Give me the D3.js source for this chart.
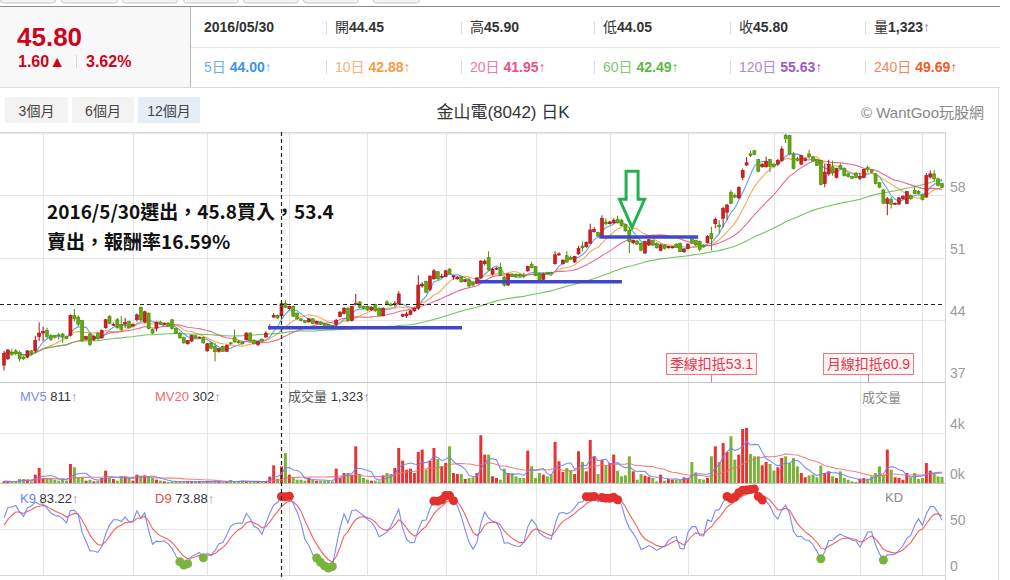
<!DOCTYPE html>
<html>
<head>
<meta charset="utf-8">
<script src="https://cdn.jsdelivr.net/npm/d3@7"></script>
<style>
  body { margin: 0; background: #fff; }
  svg { display: block; font-family: "Liberation Sans", "Noto Sans CJK TC", sans-serif; }
</style>
</head>
<body>
<div id="graphic"></div>
<script>
// Daily candles, 2016/02/15 .. 2017/02 (one entry per trading day)
const open = [
  38.9,39.6,40.3,40.5,40.3,39.8,39.8,40.5,40.5,42.1,
  42.5,42.8,42.2,42.2,42.3,42.4,42.1,42.25,44.5,44.3,
  43.9,41.85,42.4,41.8,42.5,41.95,43.1,44.4,43.4,44.0,
  43.45,43.5,43.8,43.3,44.0,45.4,43.75,44.75,42.9,43.05,
  43.75,43.5,43.6,44.0,43.05,42.5,42.0,41.3,41.6,42.2,
  41.95,42.0,40.5,41.4,41.0,40.45,41.0,40.45,41.4,42.0,
  41.55,41.5,41.75,42.5,41.7,41.2,41.8,42.05,43.05,44.3,
  44.5,44.45,45.85,45.25,45.5,44.75,44.1,43.9,43.75,44.1,
  43.6,43.75,43.55,43.45,43.35,43.45,44.35,44.7,45.3,43.9,
  45.7,46.0,45.5,45.5,45.1,45.7,45.3,44.45,46.0,45.75,
  45.7,45.85,44.4,44.45,44.6,45.0,45.3,47.8,48.3,47.4,
  48.6,49.4,48.8,48.85,49.7,48.8,48.6,48.85,48.3,48.5,
  48.2,48.1,48.7,50.3,51.0,49.15,49.7,49.9,48.8,47.9,
  49.15,49.1,49.1,49.0,49.5,50.2,49.97,49.2,48.55,49.3,
  49.3,50.3,51.3,50.3,51.2,51.0,50.5,51.4,52.3,52.2,
  52.6,53.9,53.8,53.3,55.0,54.8,54.9,55.3,55.2,54.7,
  54.07,52.65,52.85,52.6,51.5,52.4,52.95,52.6,51.8,52.4,
  52.1,52.1,52.5,52.6,51.65,52.0,53.1,52.95,52.8,52.4,
  52.65,53.7,54.8,54.65,55.4,56.1,58.3,58.0,57.7,60.0,
  61.4,62.65,63.0,62.0,61.2,61.2,62.0,61.5,61.5,61.9,
  64.75,64.7,62.65,62.1,61.5,61.9,62.65,62.3,62.0,61.9,
  59.3,60.4,61.2,60.0,61.35,61.05,60.4,60.1,60.5,59.9,
  60.0,61.1,60.85,60.4,59.4,58.6,57.06,57.5,57.0,57.0,
  57.6,57.06,58.0,58.55,58.45,58.1,57.8,60.05,60.4,59.85,59.3
];
const high = [
  40.5,40.7,40.7,40.7,40.5,39.9,40.6,40.6,42.2,43.7,
  43.2,43.1,42.4,42.3,42.5,42.5,42.2,44.6,45.2,44.5,
  44.0,42.2,42.5,42.3,42.6,42.9,44.1,44.5,43.7,44.2,
  44.4,44.2,43.9,43.6,44.7,45.5,45.0,44.8,43.0,43.8,
  43.9,43.7,43.7,44.1,43.1,42.6,42.1,41.7,42.3,42.3,
  42.1,42.1,41.4,41.5,41.4,40.8,41.1,41.2,41.5,42.9,
  41.7,41.6,42.6,42.6,41.8,41.6,41.9,42.7,43.5,44.75,
  44.6,45.9,46.2,45.6,45.6,44.8,44.2,44.0,44.2,44.2,
  43.9,43.8,43.6,43.5,43.4,44.1,45.0,45.4,45.4,45.6,
  46.9,46.1,45.6,45.6,45.5,45.8,45.4,45.4,46.2,45.9,
  46.1,47.2,44.7,44.9,45.1,45.4,49.0,48.2,48.4,49.0,
  49.7,49.5,49.2,49.6,49.8,49.0,48.9,48.9,48.6,48.7,
  48.3,48.8,50.7,50.8,51.7,49.8,49.9,50.4,48.9,49.2,
  49.2,49.2,49.2,49.3,50.1,50.5,50.0,49.3,49.2,49.4,
  49.4,51.7,51.6,50.8,51.7,51.2,51.2,52.3,52.8,52.8,
  54.8,54.4,53.9,55.75,55.4,55.1,55.4,55.7,55.3,54.8,
  54.4,53.0,53.0,52.7,52.9,53.1,53.0,52.7,52.5,52.5,
  52.3,52.3,52.6,52.7,52.0,52.6,53.2,53.0,52.9,52.5,
  53.5,54.45,55.5,55.2,56.7,57.05,58.6,58.2,59.0,61.0,
  62.3,63.0,63.1,62.1,61.6,62.35,62.1,61.6,62.1,63.5,
  64.9,64.8,62.85,62.3,62.55,62.2,63.1,62.4,62.1,62.0,
  61.5,62.0,61.9,61.1,61.6,61.1,60.5,60.2,60.6,60.5,
  61.0,61.35,60.9,60.5,59.5,58.7,57.8,57.8,57.2,57.8,
  58.0,58.5,58.1,59.0,58.6,58.2,60.5,60.8,60.85,60.0,59.4
];
const low = [
  38.3,39.5,39.9,40.0,39.3,39.5,39.7,40.0,40.3,41.6,
  41.6,41.9,41.6,41.9,41.8,41.4,41.8,42.1,43.8,43.3,
  41.5,41.7,41.0,41.6,41.8,41.9,43.0,43.5,43.3,43.0,
  42.7,43.1,43.0,43.2,43.8,43.8,43.6,42.9,42.4,42.7,
  43.4,43.4,43.2,42.9,42.4,41.9,41.3,41.2,41.5,41.9,
  41.9,41.3,40.4,40.7,39.3,40.3,40.4,40.4,41.2,41.4,
  41.3,41.2,41.7,41.5,41.2,41.0,41.5,42.0,42.85,44.2,
  44.1,44.05,45.3,45.1,44.3,44.0,43.8,43.6,43.7,43.5,
  43.5,43.4,43.1,43.1,43.0,43.1,44.3,44.6,43.8,43.8,
  45.6,45.3,45.2,45.0,45.0,44.9,44.4,44.4,45.6,45.5,
  45.5,45.7,44.3,44.2,44.5,44.9,45.1,47.6,47.0,47.2,
  48.5,48.5,48.7,48.8,49.1,48.5,48.5,48.2,48.2,47.6,
  47.8,48.0,48.6,50.1,49.5,49.0,49.6,48.9,47.7,47.8,
  48.8,48.8,48.8,48.7,49.4,49.8,48.9,48.4,48.4,49.1,
  49.1,50.2,51.2,50.2,50.4,50.7,50.4,51.3,51.7,52.1,
  52.5,53.8,53.3,53.2,54.6,54.7,54.8,54.8,54.5,53.9,
  51.5,52.5,52.4,51.7,51.4,52.3,52.3,52.0,51.7,51.9,
  52.0,52.0,52.1,51.6,51.5,51.9,52.5,52.3,51.7,52.1,
  52.6,51.8,54.3,53.7,54.4,55.2,57.0,57.7,57.6,59.7,
  61.3,62.3,62.5,60.6,61.1,61.1,60.6,61.1,61.3,61.8,
  63.85,62.5,60.9,61.8,61.4,61.8,62.1,61.8,61.3,59.1,
  58.9,60.2,60.2,59.9,60.9,60.1,60.0,59.8,59.9,59.7,
  59.9,60.6,60.5,59.2,58.8,57.0,55.75,56.5,56.9,56.9,
  57.5,57.0,57.5,58.1,58.1,57.4,57.7,59.9,59.6,59.0,58.8
];
const close = [
  40.2,40.6,40.1,40.2,39.6,39.6,40.5,40.2,41.7,42.5,
  42.7,42.1,41.8,42.0,42.2,42.1,41.9,44.5,44.1,43.5,
  41.65,42.1,41.2,42.1,41.9,42.8,44.0,43.6,43.5,43.1,
  42.9,43.7,43.1,43.45,44.55,44.0,44.9,43.0,42.5,43.75,
  43.5,43.6,43.25,43.0,42.5,41.95,41.4,41.65,42.25,41.95,
  42.05,41.4,41.3,40.8,40.4,40.75,40.45,41.1,41.3,41.5,
  41.4,41.3,42.5,41.6,41.3,41.55,41.6,42.5,43.25,44.5,
  44.2,45.8,45.4,45.5,44.4,44.1,43.9,43.7,44.1,43.55,
  43.8,43.5,43.15,43.15,43.15,43.9,44.85,45.3,43.9,45.5,
  45.85,45.4,45.25,45.1,45.4,45.0,44.5,45.3,45.7,45.6,
  45.85,46.9,44.6,44.65,45.0,45.3,47.9,48.0,47.1,48.9,
  49.5,48.6,48.9,49.5,49.15,48.95,48.8,48.25,48.5,47.8,
  47.9,48.7,50.6,50.6,49.6,49.7,49.8,49.0,47.9,49.15,
  48.85,48.85,48.9,48.9,50.0,49.85,49.0,48.5,49.15,49.15,
  49.15,51.3,51.4,50.7,50.5,50.8,51.1,52.0,52.1,52.7,
  54.1,54.15,53.4,55.4,54.8,55.0,55.2,54.9,54.6,54.0,
  52.77,52.95,52.5,51.8,52.8,53.0,52.4,52.1,52.4,52.0,
  52.25,52.2,52.15,51.65,51.9,52.5,52.6,52.4,51.9,52.2,
  53.4,53.1,55.3,54.45,56.5,56.9,57.1,57.8,58.9,60.8,
  61.65,62.47,62.6,60.7,61.5,61.8,61.25,61.25,61.9,63.2,
  64.35,62.65,61.0,61.9,62.45,62.1,62.35,61.85,61.35,59.2,
  60.6,61.5,60.5,61.0,61.0,60.2,60.1,59.9,60.0,60.1,
  60.9,60.9,60.6,59.3,58.9,57.1,57.6,57.0,57.1,57.7,
  57.9,58.4,57.6,58.2,58.2,57.5,60.2,60.4,59.85,59.1,58.9
];
// Daily volume (lots)
const volume = [
  133,133,80,150,320,320,267,133,667,1201,
  400,400,347,267,187,267,187,1522,1255,454,
  454,187,267,133,187,400,988,400,320,187,
  534,534,400,187,667,587,614,534,400,267,
  187,133,80,133,133,133,133,133,80,80,
  133,133,133,80,133,80,60,80,240,133,
  133,187,133,133,80,133,133,133,507,1415,
  347,1323,2403,667,454,267,267,187,400,267,
  187,187,187,187,133,1148,400,800,800,667,
  2937,720,400,267,187,187,133,614,800,720,
  1201,2804,1789,1068,1148,800,2483,2670,1068,1789,
  2804,1922,1335,1602,2937,800,720,720,320,400,
  454,800,3818,2270,2270,534,400,267,1148,800,
  800,534,400,400,2590,1335,400,800,667,534,
  667,3284,1735,880,1201,988,720,2537,1682,934,
  3444,2136,720,1869,1388,1602,2270,988,534,614,
  2136,934,267,720,587,507,400,133,667,187,
  320,267,267,240,454,400,1682,854,320,267,
  400,2136,2937,1682,3204,2483,3738,1869,2270,4325,
  4405,2323,2136,2136,1415,1682,1522,988,1255,2002,
  2136,1602,2002,1335,800,454,614,667,454,1388,
  800,934,534,400,934,400,267,133,80,347,
  400,347,534,800,1335,667,2670,1068,454,400,
  267,800,454,800,320,400,1602,988,720,534,480
];

// Index of the first trading day of each month (Mar 2016 .. Feb 2017)
const monthStarts = [10, 33, 52, 73, 93, 113, 136, 155, 175, 197, 219, 235];

// Axis ticks
const priceTicks = [37, 44, 51, 58];
const volTicks = [0, 4000];
const kdTicks = [0, 50];

// Selected day (2016/05/30) and its quote
const pickIndex = 71;
const pickDate = '2016/05/30';
const quoteLabels = ['開', '高', '低', '收', '量'];
const quoteValues = ['44.45', '45.90', '44.05', '45.80', '1,323'];
const lastPrice = '45.80', change = '1.60', changePct = '3.62%';
const maLabels = ['5日', '10日', '20日', '60日', '120日', '240日'];
const maValues = ['44.00', '42.88', '41.95', '42.49', '55.63', '49.69'];
const mvAtPick = ['811', '302'];
const kdAtPick = ['83.22', '73.88'];

// Hand-drawn notes on the chart
const noteLines = ['2016/5/30選出，45.8買入，53.4', '賣出，報酬率16.59%'];
const supportLines = [
  { from: 67.6, to: 117.2, price: 43.1 },
  { from: 121.3, to: 158.1, price: 48.27 },
  { from: 152.3, to: 177.6, price: 53.3 }
];
const arrowAt = { index: 160.7, price: 54.4 };

const rangeButtons = ['3個月', '6個月', '12個月'];

(function(d3){

    let width = 1010, height = 580;
    let N = close.length;

    // Panel edges
    let plotRight = 945;
    let priceTop = 132, priceBottom = 382, volBottom = 483, kdBottom = 575;

    let x = d3.scaleLinear().domain([0, N - 1]).range([4, 942]);
    let yP = d3.scaleLinear().domain([37, 65]).range([382, 133]);
    let yV = d3.scaleLinear().domain([0, 8000]).range([483, 383]);
    let yK = d3.scaleLinear().domain([0, 100]).range([575, 483]);

    let upColor = '#d21f1f', upEdge = '#a81414';
    let downColor = '#63a80c', downEdge = '#4b8a06';
    let maColors = ['#3d95e6', '#f59a3e', '#ec4f83', '#5cb845', '#9b59c6', '#f15a24'];
    let maLabelColors = ['#6aaee8', '#f6b277', '#ef7aa0', '#84c86f', '#b287cf', '#f4835a'];

    let svg = d3.select('#graphic')
                .append('svg')
                .attr('width', width)
                .attr('height', height);

    function movingAvg(arr, n) {
        return arr.map((v, i) => d3.mean(arr.slice(Math.max(0, i - n + 1), i + 1)));
    }

    function kdSeries() {
        let k = 50, d = 50;
        return close.map((c, i) => {
            let s = Math.max(0, i - 8);
            let lo = d3.min(low.slice(s, i + 1)), hi = d3.max(high.slice(s, i + 1));
            let rsv = hi > lo ? (c - lo) / (hi - lo) * 100 : 50;
            k = k * 2 / 3 + rsv / 3;
            d = d * 2 / 3 + k / 3;
            return { k: k, d: d };
        });
    }

    function drawHeader()
    {
        // Cut-off tabs above the quote box
        [[0, 55], [61, 117], [122, 177], [183, 238], [243, 298], [303, 358], [373, 419]].forEach(t => {
            svg.append('rect')
               .attr('x', t[0] + 0.5).attr('y', -8).attr('width', t[1] - t[0]).attr('height', 11)
               .attr('rx', 3).attr('fill', '#f3f3f3').attr('stroke', '#c8c8c8');
        });

        svg.append('rect').attr('x', 0).attr('y', 7).attr('width', 190).attr('height', 80).attr('fill', '#f8f8f8');
        svg.append('line').attr('x1', 0).attr('x2', 1000).attr('y1', 6.5).attr('y2', 6.5).attr('stroke', '#8a8a8a');
        svg.append('line').attr('x1', 190.5).attr('x2', 190.5).attr('y1', 7).attr('y2', 87).attr('stroke', '#b4b4b4');
        svg.append('line').attr('x1', 191).attr('x2', 1000).attr('y1', 47.5).attr('y2', 47.5).attr('stroke', '#e6e6e6');
        svg.append('line').attr('x1', 0).attr('x2', 1000).attr('y1', 87.5).attr('y2', 87.5).attr('stroke', '#dcdcdc');

        // Last price block
        svg.append('text').attr('x', 17).attr('y', 46).text(lastPrice)
           .attr('fill', '#d0021b').style('font-size', '26px').style('font-weight', 'bold');
        svg.append('text').attr('x', 18).attr('y', 67).attr('fill', '#d0021b')
           .style('font-size', '16px').style('font-weight', 'bold').text(change + '▲');
        svg.append('line').attr('x1', 76.5).attr('x2', 76.5).attr('y1', 55).attr('y2', 68).attr('stroke', '#d8d8d8');
        svg.append('text').attr('x', 86).attr('y', 67).attr('fill', '#d0021b')
           .style('font-size', '16px').style('font-weight', 'bold').text(changePct);

        let cols = [204, 335, 470, 603, 739, 874];

        // Row 1: date and OHLC
        svg.append('text').attr('x', cols[0]).attr('y', 32).text(pickDate)
           .attr('fill', '#333').style('font-size', '14px').style('font-weight', 'bold');
        quoteLabels.forEach((lab, i) => {
            let t = svg.append('text').attr('x', cols[i + 1]).attr('y', 32).style('font-size', '14px').attr('fill', '#333');
            t.append('tspan').text(lab);
            t.append('tspan').text(quoteValues[i]).style('font-weight', 'bold');
            if (i === quoteLabels.length - 1) t.append('tspan').text('↑').attr('fill', '#a57ac2');
        });

        // Row 2: moving averages
        maLabels.forEach((lab, i) => {
            let t = svg.append('text').attr('x', cols[i]).attr('y', 72).style('font-size', '14px');
            t.append('tspan').text(lab).attr('fill', maLabelColors[i]);
            t.append('tspan').text(' ' + maValues[i]).attr('fill', maColors[i]).style('font-weight', 'bold');
            t.append('tspan').text('↑').attr('fill', i === 0 ? '#a9a2e6' : maColors[i]);
        });

        cols.slice(1).forEach(c => {
            [[21, 35], [60, 74]].forEach(r => {
                svg.append('line').attr('x1', c - 8.5).attr('x2', c - 8.5).attr('y1', r[0]).attr('y2', r[1])
                   .attr('stroke', '#dedede');
            });
        });
    }

    function drawToolbar()
    {
        let bx = [[5, 68], [72, 134], [138, 200]];
        rangeButtons.forEach((b, i) => {
            svg.append('rect').attr('x', bx[i][0]).attr('y', 97).attr('width', bx[i][1] - bx[i][0]).attr('height', 26)
               .attr('fill', i === 2 ? '#e5edf8' : '#f3f3f3');
            svg.append('text').attr('x', (bx[i][0] + bx[i][1]) / 2).attr('y', 116).text(b)
               .attr('text-anchor', 'middle').attr('fill', '#444').style('font-size', '14px');
        });
        svg.append('text').attr('x', 503).attr('y', 118).text('金山電(8042) 日K')
           .attr('text-anchor', 'middle').attr('fill', '#333').style('font-size', '17px');
        svg.append('text').attr('x', 984).attr('y', 118).text('© WantGoo玩股網')
           .attr('text-anchor', 'end').attr('fill', '#888').style('font-size', '15px');
    }

    function drawFrame()
    {
        // Horizontal grid in each panel
        priceTicks.concat([65]).forEach(p => {
            svg.append('line').attr('x1', 0).attr('x2', plotRight).attr('y1', Math.round(yP(p)) + 0.5).attr('y2', Math.round(yP(p)) + 0.5)
               .attr('stroke', '#e6e6e6');
        });
        svg.append('line').attr('x1', 0).attr('x2', plotRight).attr('y1', Math.round(yV(4000)) + 0.5).attr('y2', Math.round(yV(4000)) + 0.5)
           .attr('stroke', '#e6e6e6');
        svg.append('line').attr('x1', 0).attr('x2', plotRight).attr('y1', Math.round(yK(50)) + 0.5).attr('y2', Math.round(yK(50)) + 0.5)
           .attr('stroke', '#e6e6e6');

        // Month grid
        monthStarts.forEach(i => {
            svg.append('line').attr('x1', Math.round(x(i)) + 0.5).attr('x2', Math.round(x(i)) + 0.5)
               .attr('y1', priceTop).attr('y2', kdBottom).attr('stroke', '#e4e4e4');
        });

        // Panel borders
        [priceTop, priceBottom, volBottom, kdBottom].forEach((y, i) => {
            svg.append('line').attr('x1', 0).attr('x2', plotRight).attr('y1', y + 0.5).attr('y2', y + 0.5)
               .attr('stroke', i === 1 || i === 2 ? '#c4c4c4' : '#d8d8d8');
        });
        svg.append('line').attr('x1', plotRight + 0.5).attr('x2', plotRight + 0.5).attr('y1', priceTop).attr('y2', 580)
           .attr('stroke', '#d8d8d8');
        svg.append('line').attr('x1', 998.5).attr('x2', 998.5).attr('y1', 88).attr('y2', 580).attr('stroke', '#e2e2e2');

        // Right axes
        function rightAxis(scale, ticks, fmt) {
            let g = svg.append('g').attr('transform', `translate(${plotRight + 1},0)`)
                .call(d3.axisRight(scale).tickValues(ticks).tickSize(0).tickPadding(4).tickFormat(fmt));
            g.select('.domain').remove();
            g.selectAll('text').attr('dy', '-0.3em').attr('fill', '#9a9a9a')
             .style('font-size', '14px').style('font-family', '"Liberation Sans", sans-serif');
        }
        rightAxis(yP, priceTicks, d3.format('d'));
        rightAxis(yV, volTicks, v => (v / 1000) + 'k');
        rightAxis(yK, kdTicks, d3.format('d'));
    }

    function drawCandles(g)
    {
        let bw = 3;
        for (let i = 0; i < N; i++) {
            let up = close[i] >= open[i];
            let cx = x(i);
            g.append('line').attr('x1', cx).attr('x2', cx)
             .attr('y1', yP(high[i])).attr('y2', yP(low[i]))
             .attr('stroke', up ? upEdge : downEdge).attr('stroke-width', 1);
            let top = yP(Math.max(open[i], close[i]));
            let h = Math.max(1, Math.abs(yP(open[i]) - yP(close[i])));
            g.append('rect').attr('x', cx - bw / 2).attr('y', top).attr('width', bw).attr('height', h)
             .attr('fill', up ? upColor : downColor).attr('stroke', up ? upEdge : downEdge).attr('stroke-width', 0.6);
        }
    }

    function drawMALines(g)
    {
        [5, 10, 20, 60].forEach((n, j) => {
            let ma = movingAvg(close, n);
            g.append('path')
             .attr('d', d3.line().x((d, i) => x(i)).y(d => yP(d))(ma))
             .attr('fill', 'none').attr('stroke', maColors[j]).attr('stroke-width', 1.1).attr('opacity', 0.85);
        });
    }

    function drawVolume(g)
    {
        for (let i = 0; i < N; i++) {
            let c = close[i] > open[i] ? '#e53434' : (close[i] < open[i] ? '#78b43a' : '#cfd3d6');
            g.append('rect').attr('x', x(i) - 1.5).attr('y', yV(volume[i])).attr('width', 3)
             .attr('height', yV(0) - yV(volume[i])).attr('fill', c);
        }
        let line = d3.line().x((d, i) => x(i)).y(d => yV(d));
        g.append('path').attr('d', line(movingAvg(volume, 20))).attr('fill', 'none')
         .attr('stroke', '#f26a6a').attr('stroke-width', 1.1).attr('opacity', 0.85);
        g.append('path').attr('d', line(movingAvg(volume, 5))).attr('fill', 'none')
         .attr('stroke', '#6f7ff5').attr('stroke-width', 1.1).attr('opacity', 0.9);
    }

    function drawKD(g)
    {
        let kd = kdSeries();
        g.append('path').attr('d', d3.line().x((d, i) => x(i)).y(d => yK(d.d))(kd))
         .attr('fill', 'none').attr('stroke', '#f0473f').attr('stroke-width', 1.1).attr('opacity', 0.85);
        g.append('path').attr('d', d3.line().x((d, i) => x(i)).y(d => yK(d.k))(kd))
         .attr('fill', 'none').attr('stroke', '#6a7cf6').attr('stroke-width', 1.1).attr('opacity', 0.9);
        kd.forEach((d, i) => {
            if (d.k > 80 || d.k < 20) {
                g.append('circle').attr('cx', x(i)).attr('cy', yK(d.k)).attr('r', 4.5)
                 .attr('fill', d.k > 80 ? '#e2312d' : '#7bb33f');
            }
        });
    }

    function drawPanelLabels()
    {
        function label(xp, y, parts) {
            let t = svg.append('text').attr('x', xp).attr('y', y).style('font-size', '13px');
            parts.forEach(p => t.append('tspan').text(p[0]).attr('fill', p[1]));
        }
        let arrowColor = '#a57ac2';
        label(20, 401, [['MV5', '#7b8af5'], [' ' + mvAtPick[0], '#333'], ['↑', arrowColor]]);
        label(155, 401, [['MV20', '#f26a6a'], [' ' + mvAtPick[1], '#333'], ['↑', arrowColor]]);
        label(288, 401, [['成交量', '#555'], [' ' + quoteValues[4], '#333'], ['↑', arrowColor]]);
        label(862, 402, [['成交量', '#888']]);
        label(20, 503, [['K9', '#6a7cf6'], [' ' + kdAtPick[0], '#333'], ['↑', arrowColor]]);
        label(155, 503, [['D9', '#f0473f'], [' ' + kdAtPick[1], '#333'], ['↑', arrowColor]]);
        label(885, 502, [['KD', '#888']]);
    }

    function drawDeductions()
    {
        // Price that drops out of the 60-day and 20-day averages next
        [[60, '季線扣抵'], [20, '月線扣抵']].forEach(dd => {
            let i = N - dd[0];
            let cx = Math.round(x(i)) + 0.5;
            svg.append('line').attr('x1', cx).attr('x2', cx).attr('y1', 375).attr('y2', priceBottom)
               .attr('stroke', '#e87880');
            svg.append('rect').attr('x', cx - 45).attr('y', 353.5).attr('width', 90).attr('height', 21)
               .attr('fill', '#fff2f2').attr('stroke', '#e87880');
            svg.append('text').attr('x', cx).attr('y', 369).text(dd[1] + close[i])
               .attr('text-anchor', 'middle').attr('fill', '#e0384a').style('font-size', '14px');
        });
    }

    function drawCrosshair()
    {
        let cx = Math.round(x(pickIndex)) + 0.5;
        svg.append('line').attr('x1', cx).attr('x2', cx).attr('y1', priceTop).attr('y2', 580)
           .attr('stroke', '#222').attr('stroke-dasharray', '4,3').attr('stroke-width', 1.2);
        let cy = Math.round(yP(close[pickIndex])) + 0.5;
        svg.append('line').attr('x1', 0).attr('x2', plotRight).attr('y1', cy).attr('y2', cy)
           .attr('stroke', '#222').attr('stroke-dasharray', '4,3').attr('stroke-width', 1.2);
    }

    function drawNotes()
    {
        supportLines.forEach(s => {
            svg.append('line').attr('x1', x(s.from)).attr('x2', x(s.to))
               .attr('y1', yP(s.price)).attr('y2', yP(s.price))
               .attr('stroke', '#3f48cc').attr('stroke-width', 3.5);
        });

        // Hollow down arrow, tip at the marked candle
        let tx = x(arrowAt.index), ty = yP(arrowAt.price);
        let pts = [[-6, -56], [6, -56], [6, -28], [12.5, -28], [0, 0], [-12.5, -28], [-6, -28]];
        svg.append('polygon')
           .attr('points', pts.map(p => [tx + p[0], ty + p[1]].join(',')).join(' '))
           .attr('fill', 'none').attr('stroke', '#22b14c').attr('stroke-width', 3)
           .attr('stroke-linejoin', 'miter');

        noteLines.forEach((t, i) => {
            svg.append('text').attr('x', 47).attr('y', 219 + i * 30).text(t)
               .attr('fill', '#111').style('font-size', '19px').style('font-weight', 'bold')
               .style('font-family', '"Noto Sans CJK TC", sans-serif');
        });
    }

    drawHeader();
    drawToolbar();
    drawFrame();

    svg.append('clipPath').attr('id', 'plotClip')
       .append('rect').attr('x', 0).attr('y', priceTop).attr('width', plotRight).attr('height', kdBottom - priceTop);

    let plot = svg.append('g').attr('clip-path', 'url(#plotClip)');
    drawVolume(plot.append('g'));
    drawKD(plot.append('g'));
    drawMALines(plot.append('g'));
    drawCandles(plot.append('g'));

    drawPanelLabels();
    drawDeductions();
    drawCrosshair();
    drawNotes();

})(window.d3);
</script>
</body>
</html>
